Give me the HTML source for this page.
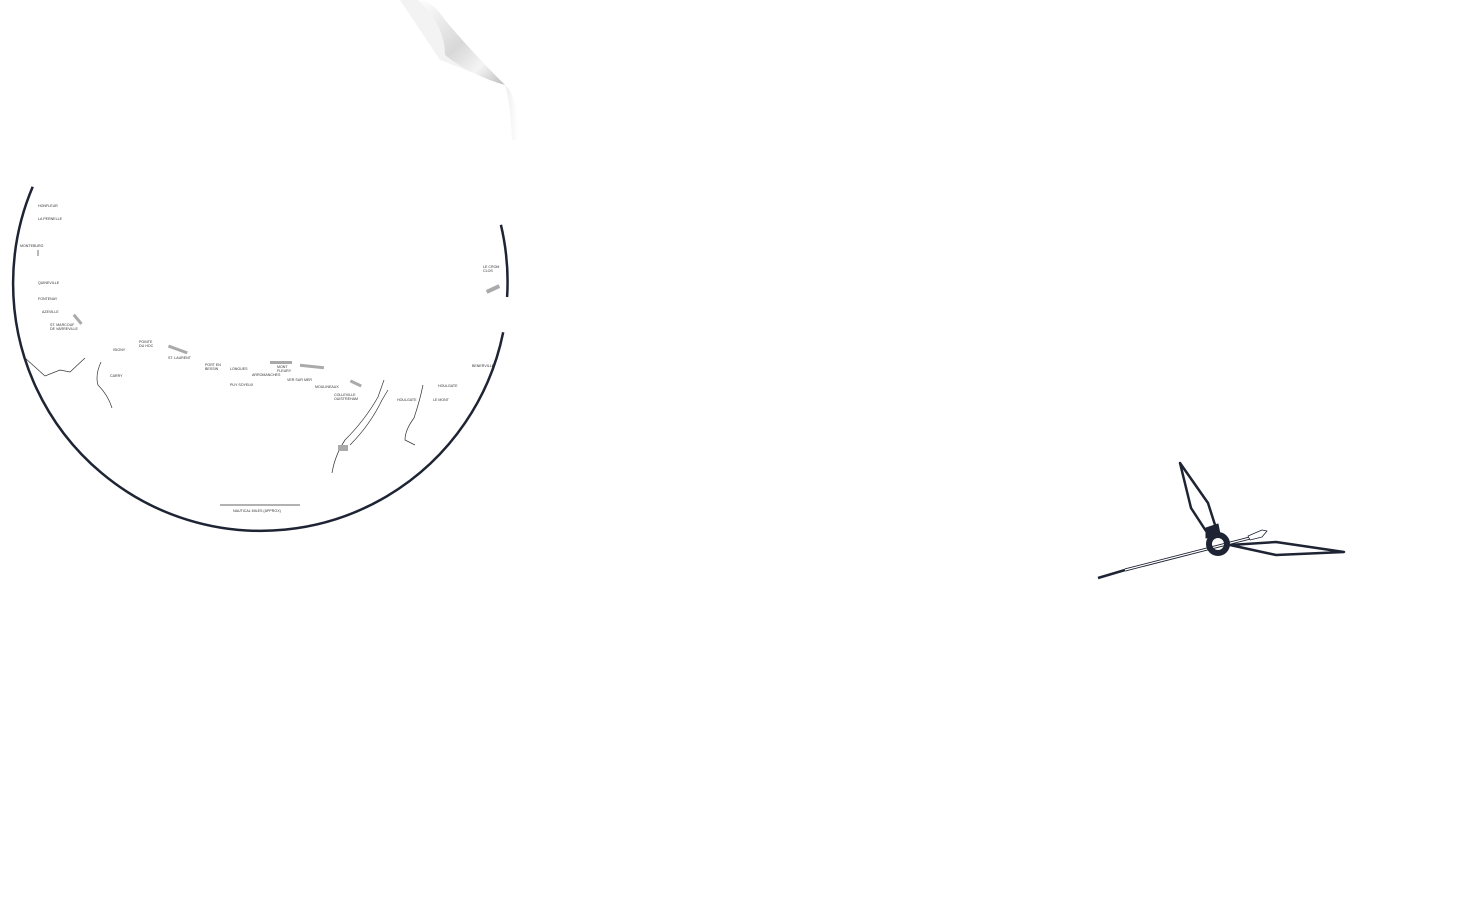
<!DOCTYPE html>
<html><head><meta charset="utf-8"><style>
html,body{margin:0;padding:0;background:#fff;width:1465px;height:909px;overflow:hidden}
svg text{font-family:"Liberation Sans",sans-serif;font-size:3.6px;fill:#333}
</style></head><body>
<svg width="1465" height="909" viewBox="0 0 1465 909" xmlns="http://www.w3.org/2000/svg">
<defs>
<linearGradient id="curl" x1="0" y1="0" x2="1" y2="1">
<stop offset="0" stop-color="#fff"/><stop offset="0.5" stop-color="#d8d8d8"/><stop offset="0.75" stop-color="#f4f4f4"/><stop offset="1" stop-color="#bbb"/>
</linearGradient>
<linearGradient id="sh" x1="0" y1="0" x2="1" y2="0"><stop offset="0" stop-color="#eee"/><stop offset="1" stop-color="#fff"/></linearGradient>
</defs>
<path d="M400 0 L418 0 Q440 10 445 50 Q470 60 505 85 L440 60 Z" fill="#f3f3f3"/>
<path d="M418 0 Q432 0 445 20 Q470 50 505 85 Q470 75 445 55 Q445 25 418 0 Z" fill="url(#curl)"/>
<path d="M505 85 Q518 95 518 140 L512 140 Q510 100 505 85 Z" fill="url(#sh)"/>
<g fill="none" stroke="#1e2433" stroke-width="2.5">
<path d="M32.7 186.8 A247.5 247.5 0 1 0 503.2 332.3"/>
<path d="M500.9 224.8 A247.5 247.5 0 0 1 507.1 297"/>
</g>
<g fill="none" stroke="#333" stroke-width="0.7">
<path d="M25 358 L45 376 L60 370 L70 372 L85 358"/>
<path d="M101 362 Q95 375 98 385 Q108 395 112 408"/>
<path d="M384 380 L378 397 Q365 420 345 440 Q335 455 332 473"/>
<path d="M388 390 L382 400 Q370 425 350 445"/>
<path d="M423 385 Q420 400 414 418 Q405 430 405 440 L415 445"/>
<path d="M38 250 L38 256"/>
<path d="M220 505 L300 505"/>
</g>
<g fill="#aaa">
<rect x="168" y="348" width="20" height="3" transform="rotate(20 178 349)"/>
<rect x="270" y="361" width="22" height="3"/>
<rect x="300" y="365" width="24" height="3" transform="rotate(6 312 366)"/>
<rect x="350" y="382" width="12" height="3" transform="rotate(25 356 383)"/>
<rect x="72" y="318" width="12" height="3" transform="rotate(50 78 319)"/>
<rect x="486" y="287" width="14" height="4" transform="rotate(-25 493 289)"/>
<rect x="338" y="445" width="10" height="6"/>
</g>
<text x="38" y="207">HONFLEUR</text><text x="38" y="220">LA PERNELLE</text>
<text x="20" y="247">MONTEBURG</text><text x="38" y="284">QUINEVILLE</text>
<text x="38" y="300">FONTENAY</text><text x="42" y="313">AZEVILLE</text>
<text x="50" y="326">ST. MARCOUF</text><text x="50" y="330">DE VARREVILLE</text>
<text x="113" y="351">ISIGNY</text><text x="139" y="343">POINTE</text><text x="139" y="347">DU HOC</text>
<text x="168" y="359">ST. LAURENT</text><text x="205" y="366">PORT EN</text><text x="205" y="370">BESSIN</text>
<text x="230" y="370">LONGUES</text><text x="252" y="376">ARROMANCHES</text>
<text x="277" y="368">MONT</text><text x="277" y="372">FLEURY</text>
<text x="287" y="381">VER SUR MER</text><text x="230" y="386">PUY SOYEUX</text>
<text x="315" y="388">MOULINEAUX</text><text x="334" y="396">COLLEVILLE</text><text x="334" y="400">OUISTREHAM</text>
<text x="397" y="401">HOULGATE</text><text x="438" y="387">HOULGATE</text><text x="433" y="401">LE MONT</text>
<text x="472" y="367">BENERVILLE</text><text x="483" y="268">LE CROM</text><text x="483" y="272">CLOS</text>
<text x="110" y="377">CARRY</text>
<text x="233" y="512">NAUTICAL MILES (APPROX)</text>
<g stroke="#1e2433" stroke-linejoin="round">
<path d="M1180 463 L1208 503 L1216 528 L1206 531 L1191 508 Z" fill="none" stroke-width="2.5"/>
<path d="M1206 528 L1218 524 L1220 534 L1206 538 Z" fill="#1e2433"/>
<path d="M1230 545 L1276 542 L1344 552 L1276 555 Z" fill="none" stroke-width="2.5"/>
<path d="M1098 578 L1125 570" stroke-width="2.5"/>
<path d="M1125 570 L1250 538" stroke-width="3" />
<path d="M1125 570 L1250 538" stroke="#fff" stroke-width="1.2"/>
<path d="M1248 536 L1262 530 L1267 531 L1262 537 L1250 540 Z" fill="#fff" stroke-width="0.8"/>
<circle cx="1218" cy="544" r="9" fill="none" stroke-width="6"/>
</g>
</svg>
</body></html>
